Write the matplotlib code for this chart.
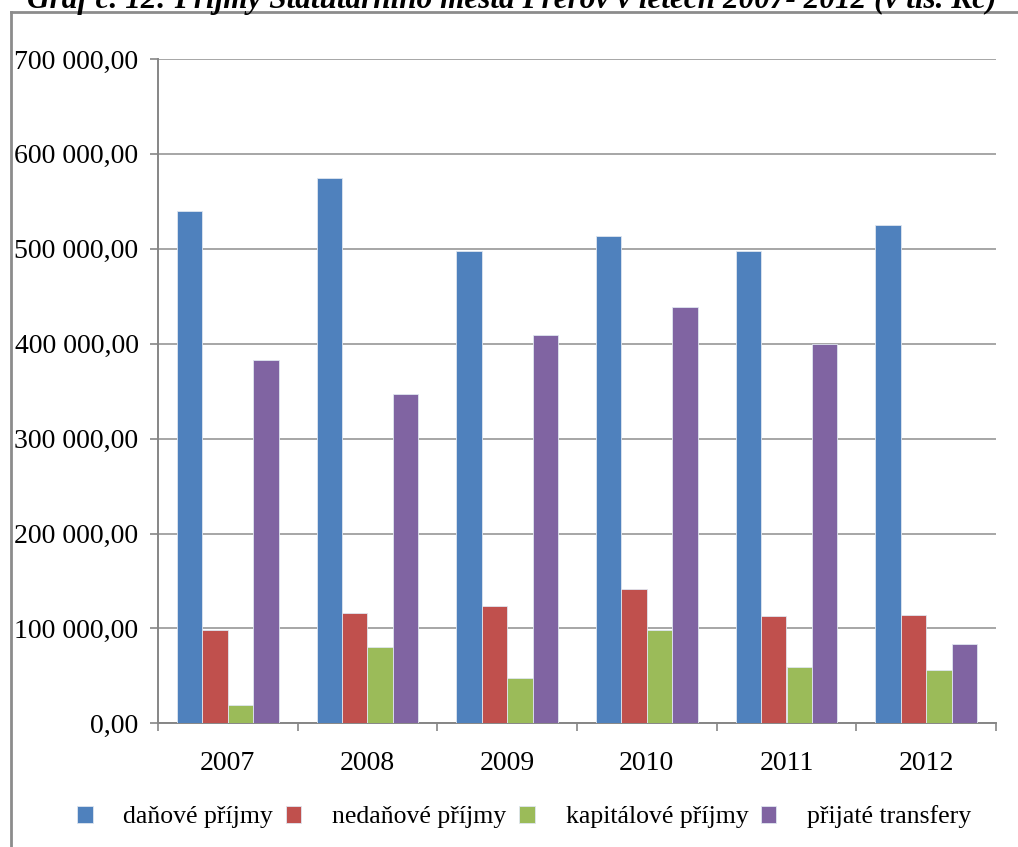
import numpy as np
import matplotlib

matplotlib.use("Agg")
import matplotlib.pyplot as plt
from matplotlib.lines import Line2D
from matplotlib.ticker import FuncFormatter, FixedLocator

plt.rcParams["font.family"] = ["Liberation Serif", "DejaVu Serif"]

# data (tis. Kc)
years = ["2007", "2008", "2009", "2010", "2011", "2012"]
danove = [540000, 575000, 498000, 513000, 498000, 525000]
nedanove = [98000, 116000, 124000, 141000, 113000, 114000]
kapitalove = [19000, 80000, 48000, 98000, 59000, 56000]
transfery = [383000, 347000, 409000, 439000, 400000, 84000]
series_names = ["daňové příjmy", "nedaňové příjmy", "kapitálové příjmy", "přijaté transfery"]
colors = ["#4F81BD", "#C0504D", "#9BBB59", "#8064A2"]

title = "Graf č. 12: Příjmy Statutárního města Přerov v letech 2007- 2012 (v tis. Kč)"


def fmt_cz(v, pos):
    s = f"{v:,.2f}"
    return s.replace(",", " ").replace(".", ",")


fig = plt.figure(figsize=(10.18, 8.47), dpi=100)
ax = fig.add_axes([158 / 1018, 1 - 723.3 / 847, (996 - 158) / 1018, (723.3 - 59) / 847])

x = np.arange(len(years))
n = 4
bw = 1 / (n + 1.5)
for i, (vals, name, c) in enumerate(zip([danove, nedanove, kapitalove, transfery], series_names, colors)):
    ax.bar(x + (i - (n - 1) / 2) * bw, vals, width=bw, color=c, edgecolor="#dfe6f0",
           linewidth=0.6, label=name, zorder=3)

ax.set_xlim(-0.5, len(years) - 0.5)
ax.set_ylim(0, 700000)
ax.set_yticks(np.arange(0, 700001, 100000))
ax.yaxis.set_major_formatter(FuncFormatter(fmt_cz))
ax.grid(axis="y", color="#a6a6a6", linewidth=1.4, zorder=0)

ax.set_xticks(x)
ax.set_xticklabels(years)
ax.xaxis.set_minor_locator(FixedLocator(np.arange(-0.5, len(years), 1.0)))
ax.tick_params(axis="x", which="major", length=0, pad=20, labelsize=20)
ax.tick_params(axis="x", which="minor", length=6, width=1.2, color="#868686", direction="out")
ax.tick_params(axis="y", length=6, width=1.2, color="#868686", pad=8, labelsize=20)

for side in ["top", "right"]:
    ax.spines[side].set_visible(False)
for side in ["left", "bottom"]:
    ax.spines[side].set_color("#868686")
    ax.spines[side].set_linewidth(1.4)

leg = fig.legend(loc="center", bbox_to_anchor=(0.515, 1 - 817 / 847), ncol=4, frameon=False,
                 fontsize=18.5, handlelength=0.6, handleheight=0.6, handletextpad=1.2,
                 columnspacing=0.5)

# outer chart frame (top and left edges visible)
fig.add_artist(Line2D([11 / 1018, 1.0], [1 - 12 / 847, 1 - 12 / 847], transform=fig.transFigure,
                      color="#8c8c8c", linewidth=2))
fig.add_artist(Line2D([11 / 1018, 11 / 1018], [0, 1 - 12 / 847], transform=fig.transFigure,
                      color="#8c8c8c", linewidth=2))

# title, cut off by the top edge as in the source
fig.text(0.503, 1 - 8 / 847, title, ha="center", va="baseline", fontsize=22.5,
         fontweight="bold", fontstyle="italic")

fig.savefig("out.png", dpi=100)
